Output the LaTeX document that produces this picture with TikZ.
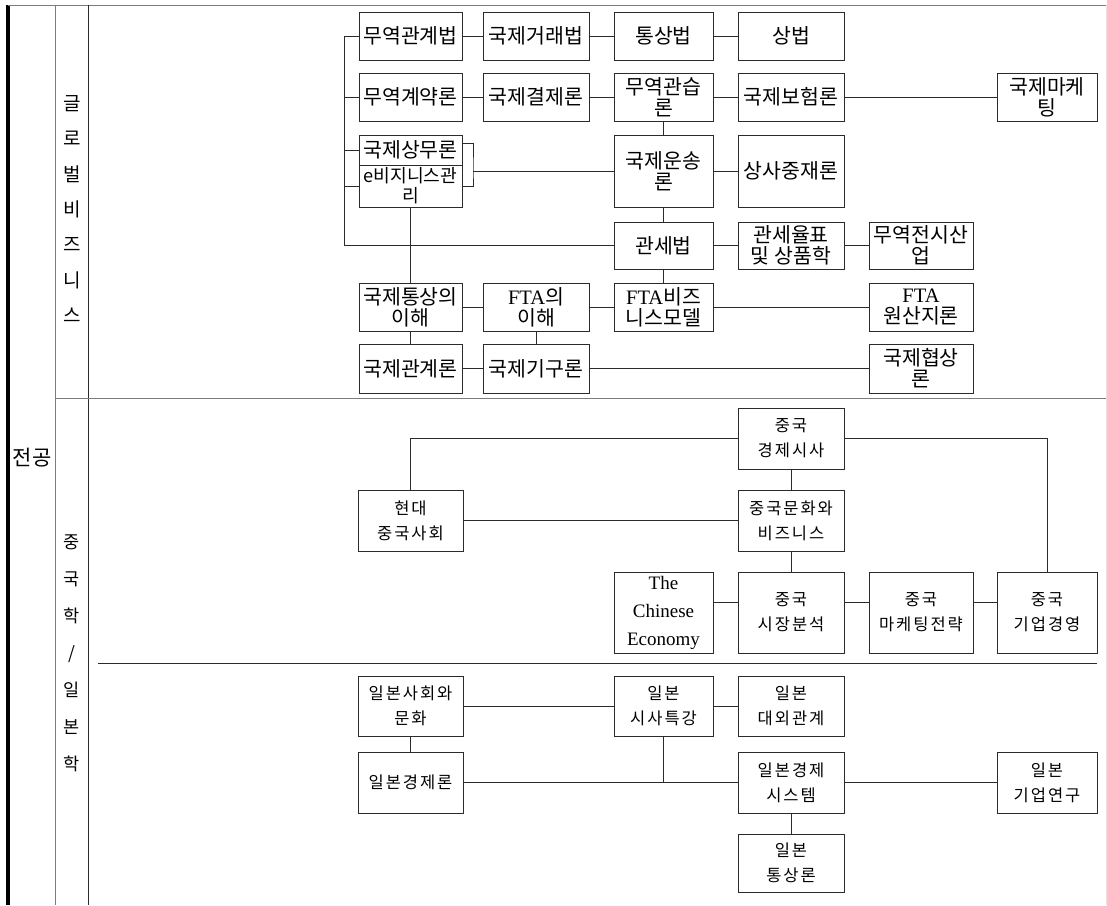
\documentclass[tikz,border=0pt]{standalone}
\usepackage{fontspec}
\setmainfont{Liberation Serif}
\newfontfamily\krfont{Noto Sans CJK KR}
\newfontfamily\krwide[LetterSpace=12]{Noto Sans CJK KR}
\usepackage{xcolor}
\usepackage{tikz}
\usetikzlibrary{positioning,calc}
\definecolor{ink}{HTML}{2B2B2B}
\definecolor{rule}{HTML}{7C7C7C}
\definecolor{faint}{HTML}{E4E4E4}
\newcommand{\lat}[1]{{\rmfamily #1}}
\tikzset{
  subj/.style={rectangle, draw=ink, fill=white, line width=1pt, inner sep=0pt,
               align=center, font=\krfont\fontsize{20.5}{21}\selectfont},
  areasubj/.style={subj, font=\krwide\fontsize{16.5}{25}\selectfont},
  engsubj/.style={subj, font=\rmfamily\fontsize{19}{28}\selectfont},
  lbl/.style={font=\krfont\fontsize{21}{22}\selectfont, inner sep=0pt},
  vlbl/.style={font=\krfont\fontsize{19}{35.3}\selectfont, align=center, inner sep=0pt},
  vlblb/.style={font=\krfont\fontsize{17.5}{37}\selectfont, align=center, inner sep=0pt},
  link/.style={draw=ink, line width=0.9pt},
}
\begin{document}
\begin{tikzpicture}[x=1pt, y=-1pt]
\useasboundingbox (0,0) rectangle (1107,905);
% frame of the table
\draw[line width=3.5pt] (8,5) -- (8,905);
\draw[rule, line width=1pt] (8,5) -- (1106,5);
\draw[rule, line width=1pt] (55,5) -- (55,905);
\draw[ink, line width=1pt] (88,5) -- (88,905);
\draw[rule, line width=1pt] (55,398.5) -- (1106,398.5);
\draw[ink, line width=0.9pt] (98,663.5) -- (1097,663.5);
\draw[faint, line width=1pt] (1106,5) -- (1106,905);
\node[lbl] (jeongong) at (32,458) {전공};
\node[vlbl] (global) at (72,209) {글\\로\\벌\\비\\즈\\니\\스};
\node[vlblb] (area) at (72,653) {중\\국\\학\\/\\일\\본\\학};

% global business
\node[subj, minimum width=103pt, minimum height=48pt] (gwangye) at (410.5,36) {무역관계법};
\node[subj, minimum width=106pt, minimum height=48pt] (georae) at (536,36) {국제거래법};
\node[subj, minimum width=99pt, minimum height=48pt] (tongsang) at (663.5,36) {통상법};
\node[subj, minimum width=106pt, minimum height=48pt] (sangbeop) at (791,36) {상법};
\node[subj, minimum width=103pt, minimum height=48pt] (gyeyak) at (410.5,97) {무역계약론};
\node[subj, minimum width=106pt, minimum height=48pt] (gyeolje) at (536,97) {국제결제론};
\node[subj, minimum width=99pt, minimum height=48pt] (gwanseup) at (663.5,97) {무역관습\\론};
\node[subj, minimum width=106pt, minimum height=48pt] (boheom) at (791,97) {국제보험론};
\node[subj, minimum width=100pt, minimum height=48pt] (marketing) at (1047,97) {국제마케\\팅};
\node[subj, minimum width=103pt, minimum height=30pt] (sangmu) at (410.5,150) {국제상무론};
\node[subj, minimum width=103pt, minimum height=42pt, font=\krfont\fontsize{18.2}{20}\selectfont] (ebiz) at (410.5,186) {e비지니스관\\리};
\node[subj, minimum width=99pt, minimum height=72pt] (unsong) at (663.5,171) {국제운송\\론};
\node[subj, minimum width=106pt, minimum height=72pt] (jungjae) at (791,171) {상사중재론};
\node[subj, minimum width=99pt, minimum height=47pt] (gwanse) at (663.5,245.5) {관세법};
\node[subj, minimum width=106pt, minimum height=47pt] (yulpyo) at (791,245.5) {관세율표\\및 상품학};
\node[subj, minimum width=104pt, minimum height=47pt] (jeonsi) at (921,245.5) {무역전시산\\업};
\node[subj, minimum width=103pt, minimum height=48pt] (tongsangihae) at (410.5,307) {국제통상의\\이해};
\node[subj, minimum width=106pt, minimum height=48pt] (ftaihae) at (536,307) {\lat{FTA}의\\이해};
\node[subj, minimum width=99pt, minimum height=48pt] (ftabiz) at (663.5,307) {\lat{FTA}비즈\\니스모델};
\node[subj, minimum width=104pt, minimum height=48pt] (wonsanji) at (921,307) {\lat{FTA}\\원산지론};
\node[subj, minimum width=103pt, minimum height=49pt] (gukgwan) at (410.5,368.5) {국제관계론};
\node[subj, minimum width=106pt, minimum height=49pt] (gigu) at (536,368.5) {국제기구론};
\node[subj, minimum width=104pt, minimum height=49pt] (hyeopsang) at (921,368.5) {국제협상\\론};

\coordinate (bus) at (344,0);
\coordinate (brk) at (473,171);
\draw[link] (gwangye.west) -- (gwangye.west -| bus) |- (gwanse.west);
\draw[link] (gyeyak.west) -- (gyeyak.west -| bus);
\draw[link] (sangmu.west) -- (sangmu.west -| bus);
\draw[link] (ebiz.west) -- (ebiz.west -| bus);
\draw[link] ([yshift=7pt]sangmu.east) -| (brk) |- (ebiz.east);
\draw[link] (brk) -- (unsong);
\draw[link] (gwangye) -- (georae) -- (tongsang) -- (sangbeop);
\draw[link] (gyeyak) -- (gyeolje) -- (gwanseup) -- (boheom) -- (marketing);
\draw[link] (gwanseup) -- (unsong) -- (gwanse) -- (ftabiz);
\draw[link] (unsong) -- (jungjae);
\draw[link] (gwanse) -- (yulpyo) -- (jeonsi);
\draw[link] (ebiz) -- (tongsangihae) -- (gukgwan);
\draw[link] (tongsangihae) -- (ftaihae) -- (ftabiz) -- (wonsanji);
\draw[link] (ftaihae) -- (gigu);
\draw[link] (gukgwan) -- (gigu) -- (hyeopsang);

% chinese studies
\node[areasubj, minimum width=106pt, minimum height=61pt] (gyeongjesisa) at (791,438.5) {중국\\경제시사};
\node[areasubj, minimum width=106pt, minimum height=61pt] (munhwa) at (791,520.5) {중국문화와\\비즈니스};
\node[areasubj, minimum width=105pt, minimum height=61pt] (hyundae) at (410.5,520.5) {현대\\중국사회};
\node[engsubj, minimum width=99pt, minimum height=81pt] (economy) at (663.5,612.5) {The\\Chinese\\Economy};
\node[areasubj, minimum width=106pt, minimum height=81pt] (sijang) at (791,612.5) {중국\\시장분석};
\node[areasubj, minimum width=104pt, minimum height=81pt] (junglyak) at (921,612.5) {중국\\마케팅전략};
\node[areasubj, minimum width=100pt, minimum height=81pt] (giupgy) at (1047,612.5) {중국\\기업경영};

\draw[link] (hyundae.north) |- (gyeongjesisa.west);
\draw[link] (gyeongjesisa.east) -| (giupgy.north);
\draw[link] (gyeongjesisa) -- (munhwa) -- (sijang);
\draw[link] (hyundae) -- (munhwa);
\draw[link] ([yshift=10pt]economy.east) -- ([yshift=10pt]sijang.west);
\draw[link] ([yshift=10pt]sijang.east) -- ([yshift=10pt]junglyak.west);
\draw[link] ([yshift=10pt]junglyak.east) -- ([yshift=10pt]giupgy.west);

% japanese studies
\node[areasubj, minimum width=105pt, minimum height=60pt] (sahoe) at (410.5,706) {일본사회와\\문화};
\node[areasubj, minimum width=99pt, minimum height=60pt] (sisa) at (663.5,706) {일본\\시사특강};
\node[areasubj, minimum width=106pt, minimum height=60pt] (daeoe) at (791,706) {일본\\대외관계};
\node[areasubj, minimum width=105pt, minimum height=61pt] (gyeongjeron) at (410.5,782.5) {일본경제론};
\node[areasubj, minimum width=106pt, minimum height=61pt] (system) at (791,782.5) {일본경제\\시스템};
\node[areasubj, minimum width=100pt, minimum height=61pt] (giupyeongu) at (1047,782.5) {일본\\기업연구};
\node[areasubj, minimum width=106pt, minimum height=58pt] (tongsangron) at (791,863) {일본\\통상론};

\draw[link] (sahoe) -- (sisa) -- (daeoe);
\draw[link] (sahoe) -- (gyeongjeron);
\draw[link] (gyeongjeron) -- (system) -- (giupyeongu);
\draw[link] (sisa) -- (sisa |- system);
\draw[link] (system) -- (tongsangron);
\end{tikzpicture}
\end{document}
